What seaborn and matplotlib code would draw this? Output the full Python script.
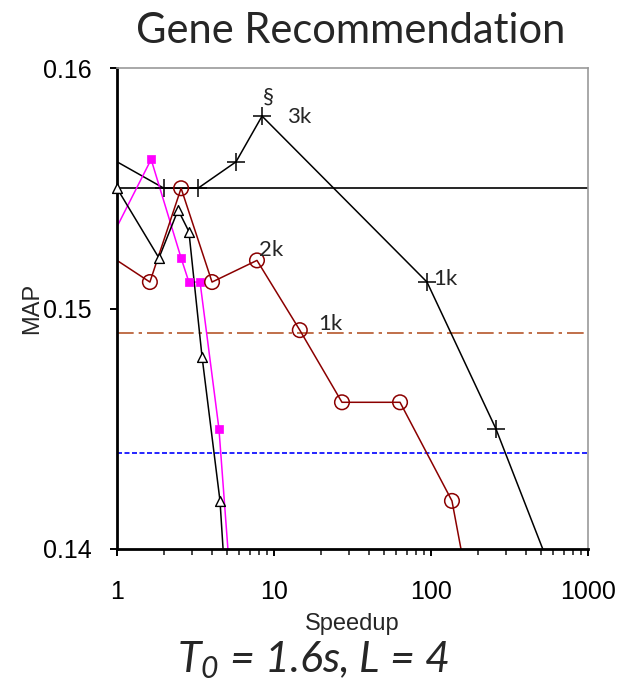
import matplotlib
matplotlib.use("Agg")
import matplotlib.pyplot as plt
import matplotlib.ticker as mticker
import seaborn as sns
import pandas as pd

# speedup / MAP (first and last points fall outside the axes)
plus_x = [1.0, 1.99, 3.28, 5.73, 8.39, 94.3, 259, 1024]
plus_y = [0.1561, 0.155, 0.155, 0.1561, 0.158, 0.1511, 0.145, 0.135]

square_x = [1.0, 1.65, 2.56, 2.87, 3.38, 4.46, 5.8]
square_y = [0.1534, 0.1562, 0.1521, 0.1511, 0.1511, 0.145, 0.135]

tri_x = [1.0, 1.85, 2.45, 2.87, 3.48, 4.53, 5.3]
tri_y = [0.155, 0.1521, 0.1541, 0.1532, 0.148, 0.142, 0.135]

circ_x = [1.0, 1.62, 2.56, 4.03, 7.79, 14.6, 27.1, 63.5, 136, 216]
circ_y = [0.152, 0.1511, 0.155, 0.1511, 0.152, 0.1491, 0.1461, 0.1461, 0.142, 0.135]

baseline_solid = 0.155
baseline_dashdot = 0.149
baseline_dashed = 0.144

labels = ["§", "3k", "1k", "2k", "1k"]
label_x = [9.16, 14.5, 103, 8.02, 19.1]
label_y = [0.1588, 0.15795, 0.15123, 0.15244, 0.14935]

sns.set_style("white")
plt.rcParams["font.family"] = ["Liberation Sans", "DejaVu Sans"]
plt.rcParams["mathtext.fontset"] = "custom"
plt.rcParams["mathtext.it"] = "Lato:italic"
plt.rcParams["mathtext.rm"] = "Lato:italic"

fig = plt.figure(figsize=(6.2, 6.93), dpi=100)
ax = fig.add_axes([117 / 620, 1 - 549 / 693, (588 - 117) / 620, (549 - 68) / 693])

red = "#8B0000"
magenta = "#FF00FF"

ax.axhline(baseline_solid, color="black", lw=1.2, zorder=1)
ax.axhline(baseline_dashdot, color="#B5562B", lw=1.2, ls=(0, (10, 3, 2, 3)), zorder=1)
ax.axhline(baseline_dashed, color="#0000FF", lw=1.2, ls=(0, (3, 1.5)), zorder=1)

series = [
    (plus_x, plus_y, "black"),
    (square_x, square_y, magenta),
    (tri_x, tri_y, "black"),
    (circ_x, circ_y, red),
]
for xs, ys, c in series:
    sns.lineplot(x=xs, y=ys, color=c, lw=1.1, ax=ax, sort=False, zorder=2)

# markers only for the points inside the axes
def inside(xs, ys, skip_first=True):
    d = pd.DataFrame({"x": xs, "y": ys})
    d = d[(d.y >= 0.14) & (d.x <= 1000)]
    if skip_first:
        d = d.iloc[1:]
    return d

d = inside(plus_x, plus_y)
sns.scatterplot(data=d, x="x", y="y", marker="+", s=150, color="black",
                linewidth=1.1, ax=ax, zorder=3)
d = inside(square_x, square_y)
sns.scatterplot(data=d, x="x", y="y", marker="s", s=40, color=magenta,
                edgecolor=magenta, ax=ax, zorder=3)
d = inside(tri_x, tri_y, skip_first=False)
sns.scatterplot(data=d, x="x", y="y", marker="^", s=50, facecolor="white",
                edgecolor="black", linewidth=1.0, ax=ax, zorder=4, clip_on=False)
d = inside(circ_x, circ_y)
sns.scatterplot(data=d, x="x", y="y", marker="o", s=110, facecolor="none",
                edgecolor=red, linewidth=1.1, ax=ax, zorder=3)

for t, lx, ly in zip(labels, label_x, label_y):
    ha = "center" if t in ("§", "3k") else "left"
    ax.text(lx, ly, t, fontsize=16, family=["Lato", "DejaVu Sans"], ha=ha, va="center")

ax.set_xscale("log")
ax.set_xlim(1, 1000)
ax.set_ylim(0.14, 0.16)
ax.set_yticks([0.14, 0.15, 0.16])
ax.yaxis.set_major_formatter(mticker.FormatStrFormatter("%.2f"))
ax.xaxis.set_major_formatter(mticker.FuncFormatter(lambda v, p: f"{v:g}"))
ax.xaxis.set_minor_locator(mticker.LogLocator(base=10, subs=range(2, 10)))
ax.xaxis.set_minor_formatter(mticker.NullFormatter())

ax.tick_params(axis="both", which="major", direction="out", length=5, width=1.4,
               labelsize=18, colors="black", bottom=True, left=True)
ax.tick_params(axis="x", which="major", pad=17)
ax.tick_params(axis="x", which="minor", direction="out", length=4.5, width=1.2,
               bottom=True)
ax.tick_params(axis="y", pad=13)

for side in ("left", "bottom"):
    ax.spines[side].set_color("black")
    ax.spines[side].set_linewidth(2)
for side in ("top", "right"):
    ax.spines[side].set_color("#999999")
    ax.spines[side].set_linewidth(1.2)

ax.set_xlabel("Speedup", fontsize=17, labelpad=7)
ax.set_ylabel("MAP", fontsize=17, labelpad=0)

fig.text(0.565, 0.955, "Gene Recommendation", fontsize=30, family=["Lato", "DejaVu Sans"],
         ha="center", va="center")
fig.text(0.505, 0.048, r"$T_{0}$ = 1.6s, L = 4", fontsize=31, style="italic",
         family=["Lato", "DejaVu Sans"], ha="center", va="center")

plt.savefig("out.png", dpi=100)
